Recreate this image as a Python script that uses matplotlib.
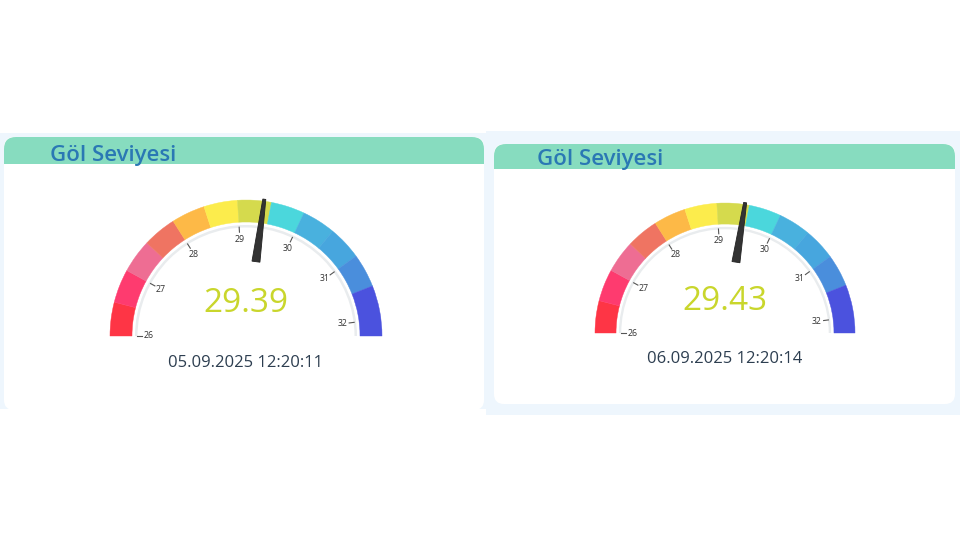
import numpy as np
import matplotlib.pyplot as plt
from matplotlib.patches import Wedge, Rectangle, FancyBboxPatch, Polygon

plt.rcParams['font.family'] = ['Open Sans', 'DejaVu Sans']

# data
titles = ["Göl Seviyesi", "Göl Seviyesi"]
values = [29.39, 29.43]
dates = ["05.09.2025 12:20:11", "06.09.2025 12:20:14"]
scale_min, scale_max = 26, 32.25
tick_values = [26, 27, 28, 29, 30, 31, 32]
band_edges = [26, 26.5, 27, 27.5, 28, 28.5, 29, 29.5, 30, 30.5, 31, 31.5, 32.25]
band_colors = ['#fe3545', '#fe3b6f', '#ee6d93', '#ef7462', '#fdb947', '#fcec4c',
               '#d5da4d', '#4bd7dc', '#49b1de', '#47a6de', '#4a8edc', '#4b52de']

W, H = 974, 548


def Y(y):
    return H - y


def ang(v):
    return 180 - (v - scale_min) / (scale_max - scale_min) * 180


def card(ax, x0, y0, x1, y1, hy):
    ax.add_patch(FancyBboxPatch((x0 + 10, Y(y1) + 10), x1 - x0 - 20, y1 - y0 - 20,
                                boxstyle="round,pad=10", fc='white', ec='none'))
    ax.add_patch(FancyBboxPatch((x0 + 12, Y(hy) + 12), x1 - x0 - 24, hy - y0 - 24,
                                boxstyle="round,pad=12", fc='#87dcbf', ec='none'))
    ax.add_patch(Rectangle((x0, Y(hy)), x1 - x0, (hy - y0) / 2, fc='#87dcbf', ec='none'))


def gauge(ax, cx, cy, s, value, date, title, title_xy, val_y, date_y):
    cy = Y(cy)
    r_out, r_in = 136 * s, 114 * s
    for lo, hi, c in zip(band_edges[:-1], band_edges[1:], band_colors):
        ax.add_patch(Wedge((cx, cy), r_out, ang(hi), ang(lo), width=r_out - r_in,
                           fc=c, ec=c, lw=0.3))
    ax.add_patch(Wedge((cx, cy), 111 * s, 0, 180, width=2.5 * s, fc='#e9ecee', ec='none'))
    for t in tick_values:
        a = np.radians(ang(t))
        ax.plot([cx + 109 * s * np.cos(a), cx + 104 * s * np.cos(a)],
                [cy + 109 * s * np.sin(a), cy + 104 * s * np.sin(a)],
                color='#555555', lw=0.8)
        ax.text(cx + 97 * s * np.cos(a), cy + 97 * s * np.sin(a), str(t),
                ha='center', va='center', fontsize=6.3, color='#333333')
    a = np.radians(ang(value))
    d = np.array([np.cos(a), np.sin(a)])
    n = np.array([-np.sin(a), np.cos(a)])
    c0 = np.array([cx, cy])
    pts = [c0 + 75 * s * d + 4 * n, c0 + 138 * s * d + 1.5 * n,
           c0 + 138 * s * d - 1.5 * n, c0 + 75 * s * d - 4 * n]
    ax.add_patch(Polygon(pts, closed=True, fc='#333333', ec='#222222', lw=0.6, zorder=5))
    ax.text(cx, Y(val_y), f"{value:.2f}", ha='center', va='baseline',
            fontsize=24, color='#c9d62c')
    ax.text(cx, Y(date_y), date, ha='center', va='baseline', fontsize=12, color='#2d3e50')
    ax.text(title_xy[0], Y(title_xy[1]), title, ha='left', va='baseline',
            fontsize=16, fontweight='semibold', color='#2a78b4')


fig = plt.figure(figsize=(W / 100, H / 100), dpi=100)
ax = fig.add_axes([0, 0, 1, 1])
ax.set_xlim(0, W)
ax.set_ylim(0, H)
ax.axis('off')

# light blue backgrounds
ax.add_patch(Rectangle((0, Y(409)), 490, 409 - 133, fc='#eef6fd', ec='none'))
ax.add_patch(Rectangle((486, Y(415)), 474, 415 - 131, fc='#eef6fd', ec='none'))

card(ax, 4, 137, 484, 410, 164)
card(ax, 494, 144, 955, 404, 169)

gauge(ax, 246, 336, 1.0, values[0], dates[0], titles[0], (50, 161), 312, 367)
gauge(ax, 725, 333, 130 / 136, values[1], dates[1], titles[1], (537, 165), 310, 363)

fig.savefig('out.png', dpi=100)
